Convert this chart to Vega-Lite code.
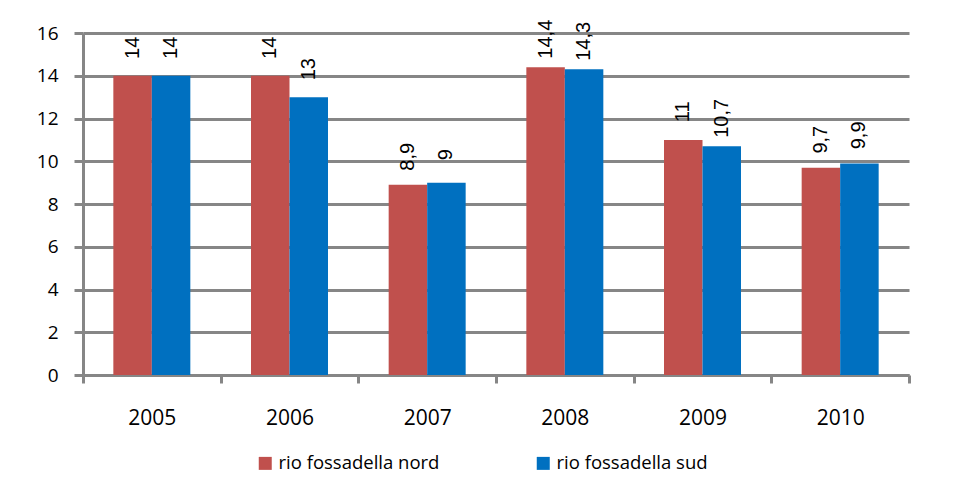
{
  "$schema": "https://vega.github.io/schema/vega-lite/v6.json",
  "autosize": {"type": "none"},
  "width": 826,
  "height": 342,
  "padding": {"left": 83, "top": 33, "right": 51, "bottom": 116},
  "background": "white",
  "data": {
    "values": [
      {"year": "2005", "serie": "rio fossadella nord", "valore": 14, "etichetta": "14"},
      {"year": "2005", "serie": "rio fossadella sud", "valore": 14, "etichetta": "14"},
      {"year": "2006", "serie": "rio fossadella nord", "valore": 14, "etichetta": "14"},
      {"year": "2006", "serie": "rio fossadella sud", "valore": 13, "etichetta": "13"},
      {"year": "2007", "serie": "rio fossadella nord", "valore": 8.9, "etichetta": "8,9"},
      {"year": "2007", "serie": "rio fossadella sud", "valore": 9, "etichetta": "9"},
      {"year": "2008", "serie": "rio fossadella nord", "valore": 14.4, "etichetta": "14,4"},
      {"year": "2008", "serie": "rio fossadella sud", "valore": 14.3, "etichetta": "14,3"},
      {"year": "2009", "serie": "rio fossadella nord", "valore": 11, "etichetta": "11"},
      {"year": "2009", "serie": "rio fossadella sud", "valore": 10.7, "etichetta": "10,7"},
      {"year": "2010", "serie": "rio fossadella nord", "valore": 9.7, "etichetta": "9,7"},
      {"year": "2010", "serie": "rio fossadella sud", "valore": 9.9, "etichetta": "9,9"}
    ]
  },
  "encoding": {
    "x": {
      "field": "year", "type": "nominal",
      "scale": {"paddingInner": 0, "paddingOuter": 0},
      "axis": {
        "title": null, "labelAngle": 0, "labelFont": "Open Sans", "labelFontSize": 21,
        "labelColor": "#000000", "labelPadding": 24, "tickBand": "extent",
        "tickColor": "#868686", "tickWidth": 3, "tickSize": 8,
        "domainColor": "#868686", "domainWidth": 3, "grid": false
      }
    },
    "xOffset": {"field": "serie", "type": "nominal", "scale": {"paddingInner": 0, "paddingOuter": 0.788}},
    "y": {
      "field": "valore", "type": "quantitative",
      "scale": {"domain": [0, 16], "nice": false},
      "axis": {
        "title": null, "values": [0, 2, 4, 6, 8, 10, 12, 14, 16], "labelFont": "Open Sans",
        "labelFontSize": 19, "labelColor": "#000000", "labelPadding": 16,
        "tickColor": "#868686", "tickWidth": 3, "tickSize": 9,
        "domainColor": "#868686", "domainWidth": 3,
        "grid": true, "gridColor": "#868686", "gridWidth": 3, "gridOpacity": 1
      }
    }
  },
  "layer": [
    {
      "mark": {"type": "bar", "stroke": null},
      "encoding": {
        "color": {
          "field": "serie", "type": "nominal",
          "scale": {"domain": ["rio fossadella nord", "rio fossadella sud"], "range": ["#C0504D", "#0070C0"]},
          "legend": {
            "title": null, "orient": "none", "direction": "horizontal",
            "legendX": 173, "legendY": 421, "padding": 0,
            "symbolType": "square", "symbolSize": 169, "symbolStrokeWidth": 0, "symbolOpacity": 1,
            "labelFont": "Open Sans", "labelFontSize": 18.5, "labelColor": "#000000",
            "labelOffset": 4, "columnPadding": 94, "labelLimit": 300
          }
        }
      }
    },
    {
      "mark": {"type": "text", "angle": 270, "align": "center", "baseline": "middle", "dx": 28,
        "font": "Liberation Sans", "fontSize": 20, "color": "#000000"},
      "encoding": {"text": {"field": "etichetta"}}
    }
  ],
  "config": {"view": {"stroke": null}}
}
